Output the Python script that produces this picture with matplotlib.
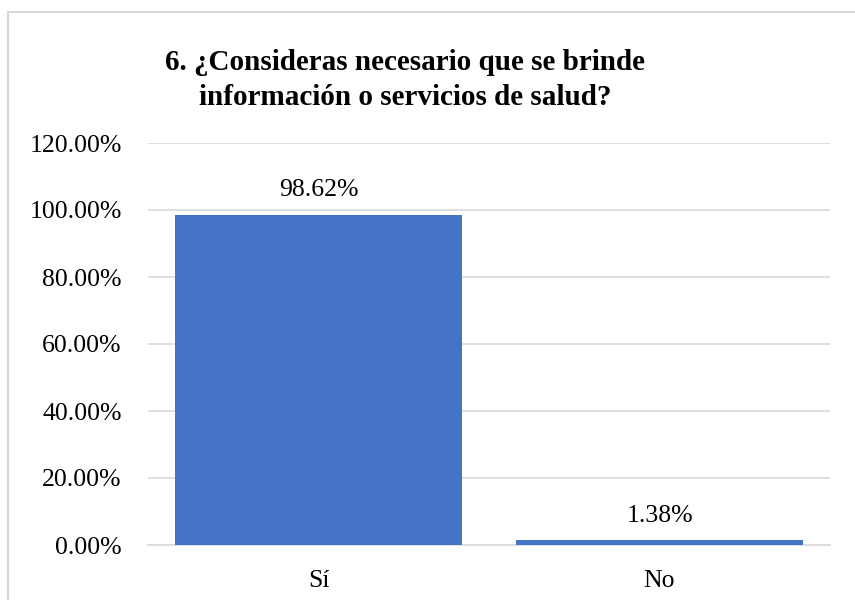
import matplotlib.pyplot as plt
from matplotlib.patches import Rectangle
from matplotlib.ticker import FuncFormatter

categories = ['Sí', 'No']
values = [98.62, 1.38]
labels = ['98.62%', '1.38%']
title = '6. ¿Consideras necesario que se brinde\ninformación o servicios de salud?'

plt.rcParams['font.family'] = ['Liberation Serif', 'DejaVu Serif']

fig = plt.figure(figsize=(8.55, 6), dpi=100)
# chart frame (runs off the right and bottom edges)
fig.patches.append(Rectangle((8 / 855, -0.05), 1.0, 1 - 12 / 600 + 0.05,
                             transform=fig.transFigure, fill=False,
                             edgecolor='#d9d9d9', linewidth=1.5))

ax = fig.add_axes([148 / 855, 1 - 545 / 600, 682 / 855, 402 / 600])
x = range(len(categories))
ax.bar(x, values, width=0.84, color='#4472C4', zorder=3)
for xi, v, lab in zip(x, values, labels):
    ax.text(xi, v + 4, lab, ha='center', va='bottom', fontsize=18.5)

ax.set_xlim(-0.5, 1.5)
ax.set_ylim(0, 120)
ax.set_yticks(range(0, 121, 20))
ax.yaxis.set_major_formatter(FuncFormatter(lambda v, p: f'{v:.2f}%'))
ax.set_xticks(list(x))
ax.set_xticklabels(categories)
ax.tick_params(axis='both', length=0, labelsize=18.5)
ax.tick_params(axis='x', pad=18)
ax.tick_params(axis='y', pad=19)
ax.grid(axis='y', color='#d9d9d9', linewidth=1.2, zorder=0)
for s in ['top', 'right', 'left']:
    ax.spines[s].set_visible(False)
ax.spines['bottom'].set_color('#d9d9d9')
ax.spines['bottom'].set_linewidth(1.2)

fig.text(405 / 855, 1 - 80 / 600, title, ha='center', va='center',
         fontsize=21, fontweight='bold', linespacing=1.35)

fig.savefig('out.png', dpi=100, facecolor='white')
